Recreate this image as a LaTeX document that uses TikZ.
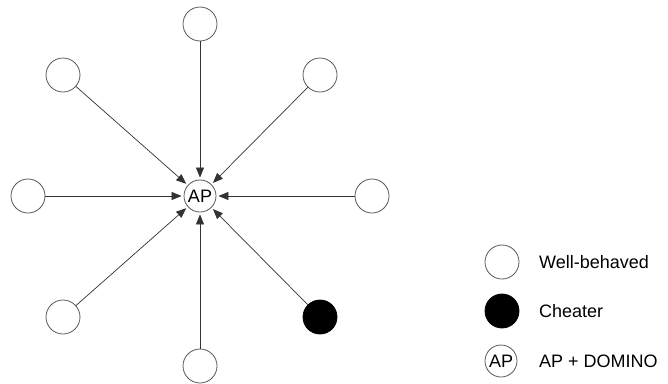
\documentclass[tikz,border=0pt]{standalone}
\usepackage{fontspec}
\setmainfont{Liberation Sans}
\usetikzlibrary{arrows.meta}
\begin{document}
\begin{tikzpicture}[x=1pt,y=-1pt,
  peer/.style={circle,draw=black!65,line width=0.8pt,minimum size=34pt,inner sep=0pt,fill=white},
  cheat/.style={peer,fill=black,draw=black},
  apnode/.style={circle,draw=black!65,line width=0.8pt,minimum size=32pt,inner sep=0pt,fill=white,font=\fontsize{18}{21}\selectfont},
  link/.style={draw=black!80,line width=0.7pt,-{Triangle[length=10pt,width=8pt]},shorten >=2pt},
  lab/.style={anchor=west,inner sep=0pt,font=\fontsize{18}{21}\selectfont}]
\useasboundingbox (0,0) rectangle (668,383);
\node[apnode] (ap) at (200,196) {AP};
\node[peer] (n) at (200,24) {};
\node[peer] (nw) at (63,75) {};
\node[peer] (ne) at (320,75) {};
\node[peer] (w) at (28,196) {};
\node[peer] (e) at (372,196) {};
\node[peer] (sw) at (63,317) {};
\node[cheat] (se) at (320,317) {};
\node[peer] (s) at (200,366) {};
\foreach \p in {n,nw,ne,w,e,sw,se,s} \draw[link] (\p) -- (ap);
\node[peer] (lg1) at (502,262) {};
\node[lab] (lt1) at (539,262) {Well-behaved};
\node[cheat] (lg2) at (502,311) {};
\node[lab] (lt2) at (539,311) {Cheater};
\node[apnode] (lg3) at (501,361) {AP};
\node[lab] (lt3) at (539,361) {AP + DOMINO};
\end{tikzpicture}
\end{document}
